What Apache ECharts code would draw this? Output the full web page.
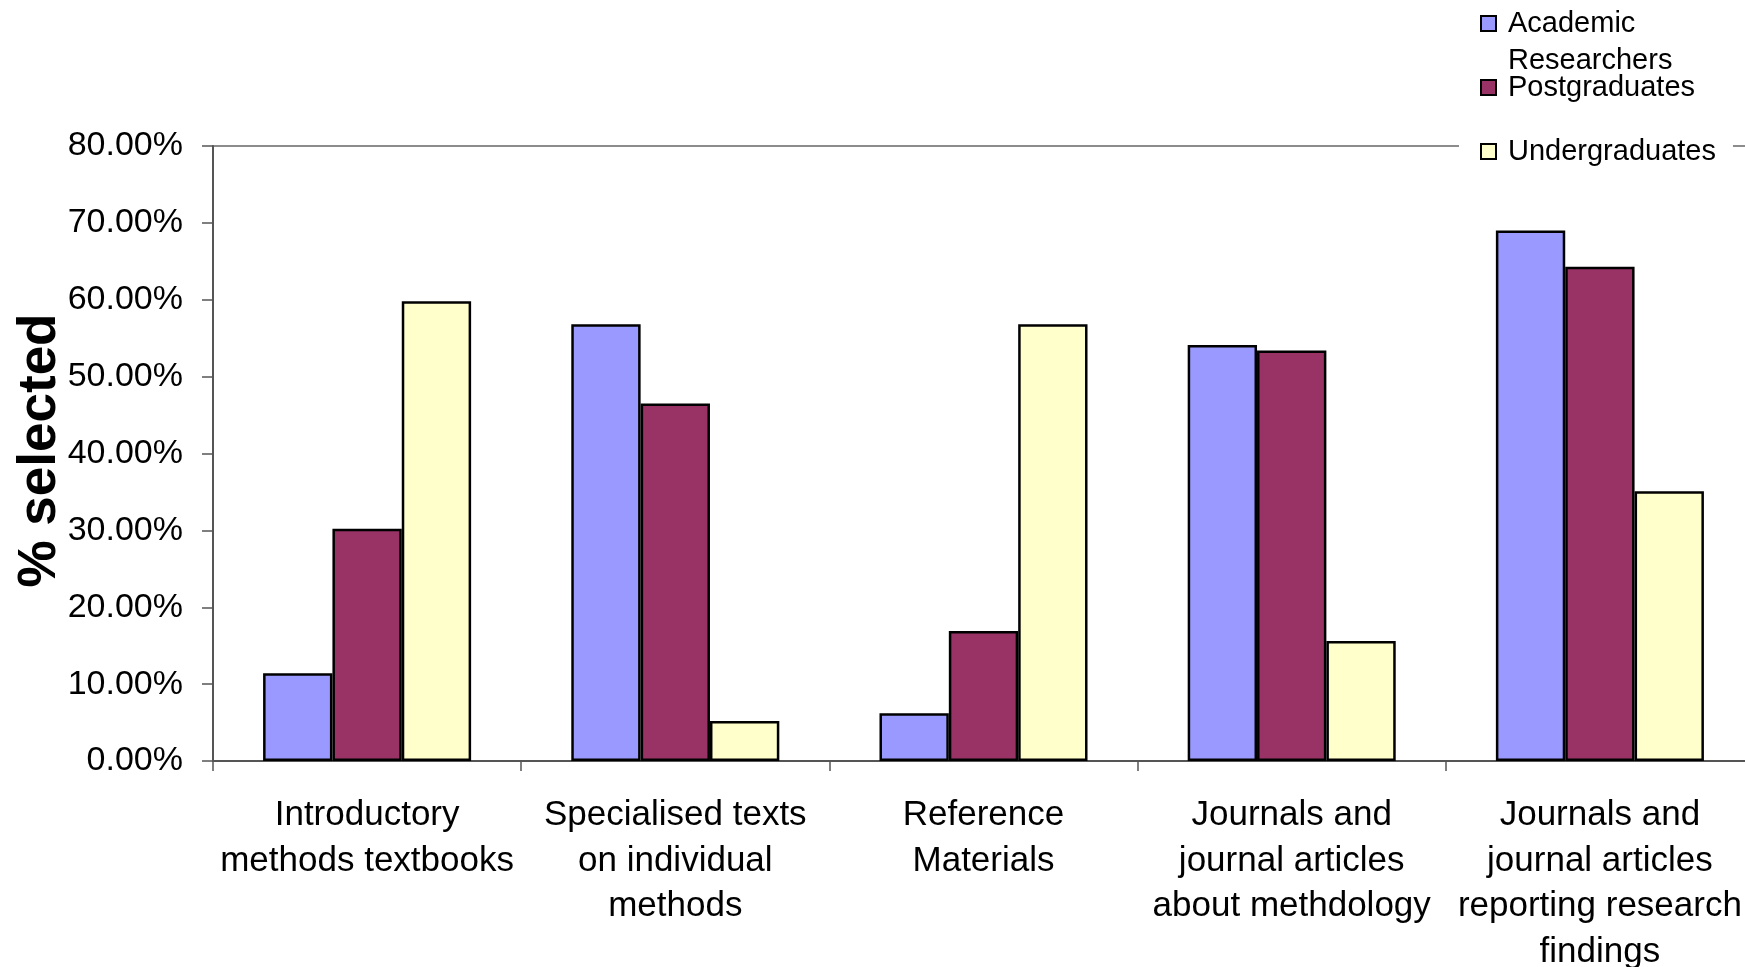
<!DOCTYPE html>
<html>
<head>
<meta charset="utf-8">
<script src="https://cdn.jsdelivr.net/npm/echarts@6/dist/echarts.min.js"></script>
<style>
  html, body { margin: 0; padding: 0; background: #ffffff; }
  #chart { width: 1745px; height: 967px; }
</style>
</head>
<body>
<div id="chart"></div>
<script>
const categories = [
  'Introductory\nmethods textbooks',
  'Specialised texts\non individual\nmethods',
  'Reference\nMaterials',
  'Journals and\njournal articles\nabout methdology',
  'Journals and\njournal articles\nreporting research\nfindings'
];
const seriesNames = ['Academic Researchers', 'Postgraduates', 'Undergraduates'];
const academic = [11.4, 56.8, 6.2, 54.1, 69.0];
const postgraduates = [30.2, 46.5, 16.9, 53.4, 64.3];
const undergraduates = [59.8, 5.2, 56.8, 15.6, 35.1];
const colors = ['#9999FF', '#993366', '#FFFFCC'];
const yTicks = { min: 0, max: 80, interval: 10 };

const FONT = '"Liberation Sans", Arial, Helvetica, sans-serif';
const chart = echarts.init(document.getElementById('chart'), null, { renderer: 'canvas' });

function barSeries(name, data, color) {
  return {
    name: name,
    type: 'bar',
    data: data,
    barGap: '0%',
    barCategoryGap: '32.5%',
    itemStyle: { color: color, borderColor: '#000000', borderWidth: 2.5 }
  };
}

const legendText = { fontFamily: FONT, fontSize: 29, color: '#000', lineHeight: 37, padding: [0, 0, 0, 7] };
const legendIconStyle = { borderColor: '#000000', borderWidth: 2 };

chart.setOption({
  backgroundColor: '#ffffff',
  animation: false,
  grid: {
    left: 213, width: 1541, top: 146, bottom: 206,
    containLabel: false,
    outerBoundsMode: 'none',
    show: true, borderColor: '#8c8c8c', borderWidth: 2, backgroundColor: 'transparent'
  },
  legend: [
    {
      data: [seriesNames[0]],
      orient: 'vertical', left: 1480, top: -32, padding: 0,
      itemWidth: 15, itemHeight: 15, icon: 'rect', itemStyle: legendIconStyle,
      formatter: function () { return '{e| }\n{a|Academic}\n{a|Researchers}'; },
      textStyle: Object.assign({}, legendText, {
        rich: { e: { fontSize: 29, lineHeight: 37 }, a: { fontFamily: FONT, fontSize: 29, lineHeight: 37, color: '#000' } }
      })
    },
    {
      data: [seriesNames[1]],
      orient: 'vertical', left: 1480, top: 69, padding: 0,
      itemWidth: 15, itemHeight: 15, icon: 'rect', itemStyle: legendIconStyle,
      textStyle: legendText
    },
    {
      data: [seriesNames[2]],
      orient: 'vertical', left: 1459, top: 129, padding: [4, 17, 4, 21],
      backgroundColor: '#ffffff',
      itemWidth: 15, itemHeight: 15, icon: 'rect', itemStyle: legendIconStyle,
      textStyle: legendText
    }
  ],
  xAxis: {
    type: 'category',
    data: categories,
    axisLine: { show: true, lineStyle: { color: '#555', width: 2 } },
    axisTick: { show: true, alignWithLabel: false, length: 10, lineStyle: { color: '#555', width: 1.5 } },
    axisLabel: {
      interval: 0, margin: 32, fontFamily: FONT, fontSize: 35, lineHeight: 45.5,
      color: '#000', align: 'center'
    },
    splitLine: { show: false }
  },
  yAxis: {
    type: 'value',
    min: yTicks.min, max: yTicks.max, interval: yTicks.interval,
    name: '% selected',
    nameLocation: 'middle',
    nameRotate: 90,
    nameGap: 146,
    nameMoveOverlap: false,
    nameTextStyle: { fontFamily: FONT, fontSize: 53, fontWeight: 'bold', color: '#000', padding: [0, 0, 0, 6] },
    axisLine: { show: true, lineStyle: { color: '#555', width: 2 } },
    axisTick: { show: true, length: 11, lineStyle: { color: '#555', width: 1.5 } },
    axisLabel: {
      margin: 30, fontFamily: FONT, fontSize: 34, color: '#000',
      formatter: function (v) { return v.toFixed(2) + '%'; }
    },
    splitLine: { show: false }
  },
  series: [
    barSeries(seriesNames[0], academic, colors[0]),
    barSeries(seriesNames[1], postgraduates, colors[1]),
    barSeries(seriesNames[2], undergraduates, colors[2])
  ]
});
</script>
</body>
</html>
